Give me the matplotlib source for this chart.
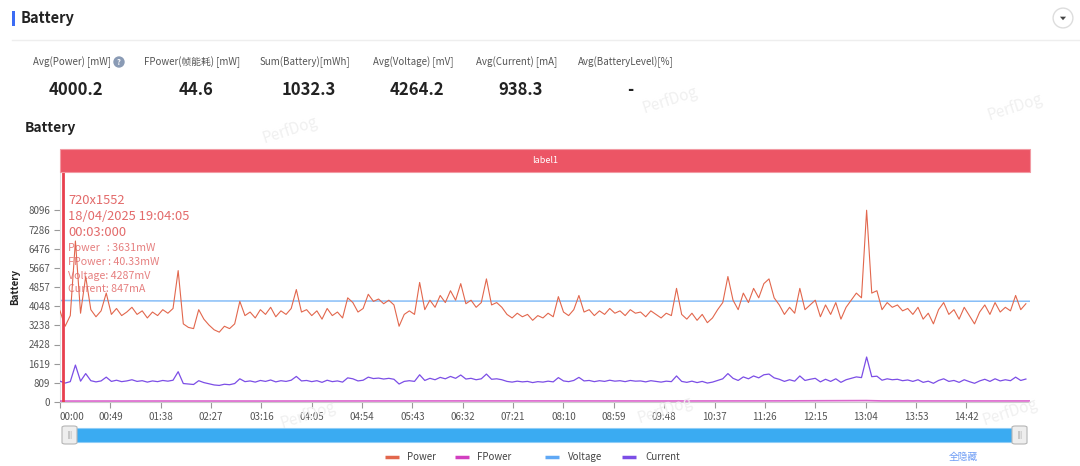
import numpy as np
import matplotlib
matplotlib.use("Agg")
import matplotlib.pyplot as plt
from matplotlib.patches import Rectangle, FancyBboxPatch, Circle, Polygon
from matplotlib.lines import Line2D

plt.rcParams['font.family'] = ['Noto Sans CJK SC', 'DejaVu Sans']

# ---------------- data ----------------
stat_labels = ["Avg(Power) [mW]", "FPower(帧能耗) [mW]", "Sum(Battery)[mWh]",
               "Avg(Voltage) [mV]", "Avg(Current) [mA]", "Avg(BatteryLevel)[%]"]
stat_values = ["4000.2", "44.6", "1032.3", "4264.2", "938.3", "-"]

sample_step_s = 5
power_mw = [
    3850, 3200, 3650, 6800, 3750, 5300, 3900, 3600, 3850, 4600,
    3700, 3950, 3650, 3800, 4000, 3700, 3850, 3550, 3800, 3650,
    3900, 3750, 3950, 5550, 3300, 3150, 3100, 3900, 3500, 3250,
    3050, 2950, 3200, 3100, 3300, 4250, 3650, 3800, 3550, 3900,
    3700, 4000, 3600, 3850, 3700, 3950, 4750, 3800, 3900, 3650,
    3850, 3500, 3950, 3650, 3800, 3550, 4400, 4200, 3800, 3950,
    4550, 4250, 4350, 4150, 4300, 4100, 3200, 3700, 3850, 3700,
    5050, 3900, 4300, 4000, 4500, 4200, 4700, 4300, 5000, 4150,
    4300, 4000, 4200, 5200, 4100, 4200, 4000, 3700, 3550, 3750,
    3600, 3700, 3450, 3650, 3550, 3750, 3600, 4450, 3800, 3650,
    3900, 4500, 3800, 3900, 3650, 3850, 3700, 3950, 3750, 3850,
    3650, 3900, 3750, 3800, 3600, 3850, 3700, 3550, 3750, 3650,
    4800, 3700, 3500, 3750, 3450, 3700, 3350, 3550, 3900, 4200,
    5300, 4300, 3900, 4600, 4200, 4800, 4400, 5000, 5200, 4400,
    4100, 3700, 4000, 3750, 4800, 3900, 4100, 4300, 3600, 4100,
    3700, 4200, 3500, 4000, 4300, 4600, 4400, 8100, 4600, 4700,
    3900, 4200, 4000, 4100, 3850, 3950, 3700, 4000, 3500, 3750,
    3300, 3900, 4200, 3700, 3900, 3500, 4000, 3650, 3300, 3800,
    4100, 3700, 4200, 3800, 4000, 3850, 4500, 3900, 4150,
]
current_ma = [
    880, 800, 860, 1560, 880, 1200, 900, 850, 890, 1050,
    870, 920, 860, 890, 940, 870, 900, 840, 890, 860,
    910, 880, 920, 1280, 780, 760, 740, 900, 820, 770,
    720, 700, 750, 730, 780, 980, 860, 890, 840, 910,
    870, 930, 850, 900, 870, 920, 1080, 890, 910, 860,
    900, 830, 920, 860, 890, 840, 1020, 980, 890, 920,
    1050, 990, 1010, 970, 1000, 960, 760, 870, 900, 870,
    1150, 910, 1000, 940, 1040, 980, 1080, 1000, 1140, 970,
    1000, 940, 980, 1180, 960, 980, 940, 870, 840, 880,
    850, 870, 820, 860, 840, 880, 850, 1030, 890, 860,
    910, 1040, 890, 910, 860, 900, 870, 920, 880, 900,
    860, 910, 880, 890, 850, 900, 870, 840, 880, 860,
    1100, 870, 830, 880, 820, 870, 800, 840, 910, 980,
    1200, 1000, 910, 1060, 980, 1100, 1020, 1150, 1180, 1020,
    960, 870, 940, 880, 1100, 910, 960, 1000, 850, 960,
    870, 980, 830, 940, 1000, 1060, 1030, 1900, 1070, 1090,
    920, 980, 940, 960, 900, 930, 870, 940, 830, 880,
    790, 910, 980, 870, 910, 830, 940, 860, 790, 890,
    960, 870, 980, 890, 940, 900, 1050, 910, 970,
]
voltage_t = [0, 100, 200, 300, 400, 500, 600, 700, 800, 944]
voltage_mv = [4287, 4270, 4266, 4264, 4262, 4263, 4260, 4262, 4258, 4256]
fpower_t = [0, 100, 200, 300, 400, 500, 600, 700, 785, 800, 944]
fpower_mw = [40, 42, 41, 44, 46, 45, 43, 47, 60, 45, 44]

xtick_labels = ["00:00", "00:49", "01:38", "02:27", "03:16", "04:05", "04:54",
                "05:43", "06:32", "07:21", "08:10", "08:59", "09:48", "10:37",
                "11:26", "12:15", "13:04", "13:53", "14:42"]
ytick_labels = ["0", "809", "1619", "2428", "3238", "4048", "4857",
                "5667", "6476", "7286", "8096"]
xtick_step_s = 49
ytick_step = 809.6
t_end = 944
cursor_t = 3
cursor_lines_big = ["720x1552", "18/04/2025 19:04:05", "00:03:000"]
cursor_lines_small = ["Power   : 3631mW", "FPower : 40.33mW",
                      "Voltage: 4287mV", "Current: 847mA"]
legend_names = ["Power", "FPower", "Voltage", "Current"]

# ---------------- style ----------------
C_POWER = "#e2674d"
C_FPOWER = "#d23fc0"
C_VOLT = "#5fa8f5"
C_CURR = "#7c4ee6"
W, H = 1080, 466


def fx(x):
    return x / W


def fy(y):
    return 1 - y / H


fig = plt.figure(figsize=(W / 100, H / 100), dpi=100)
fig.patch.set_facecolor("white")

# header
fig.patches.append(Rectangle((fx(12), fy(26)), 3 / W, 15 / H, transform=fig.transFigure,
                             facecolor="#3c6cf4", edgecolor="none"))
fig.text(fx(21), fy(18), "Battery", fontsize=10.5, fontweight="bold", color="#222222",
         va="center", ha="left")
fig.add_artist(Line2D([fx(12), fx(1080)], [fy(40), fy(40)], color="#eeeeee", lw=1,
                      transform=fig.transFigure))
# dropdown button
bx = fig.add_axes([fx(1052), fy(29), 22 / W, 22 / H])
bx.set_xlim(-1, 1); bx.set_ylim(-1, 1); bx.axis("off"); bx.set_aspect("equal")
bx.add_patch(Circle((0, 0), 0.9, facecolor="white", edgecolor="#dddddd", lw=1))
bx.add_patch(Polygon([[-0.28, 0.12], [0.28, 0.12], [0, -0.2]], closed=True,
                     facecolor="#444444", edgecolor="none"))

# stats
col_centers = [72, 192, 305, 413, 517, 626]
for cx, lab, val in zip(col_centers, stat_labels, stat_values):
    fig.text(fx(cx), fy(62), lab, fontsize=7, color="#555555", ha="center", va="center")
    fig.text(fx(cx + 4), fy(90), val, fontsize=12, fontweight="bold", color="#222222",
             ha="center", va="center")
hx = fig.add_axes([fx(113), fy(68), 12 / W, 12 / H])
hx.set_xlim(-1, 1); hx.set_ylim(-1, 1); hx.axis("off"); hx.set_aspect("equal")
hx.add_patch(Circle((0, 0), 0.95, facecolor="#8a9bb5", edgecolor="none"))
hx.text(0, -0.05, "?", color="white", fontsize=5.5, fontweight="bold", ha="center", va="center")

# watermarks
for (wx, wy) in [(290, 130), (670, 100), (1015, 107), (308, 415), (665, 410), (1010, 412)]:
    fig.text(fx(wx), fy(wy), "PerfDog", fontsize=11, color="#f0f0f0", rotation=18,
             ha="center", va="center", zorder=0)

fig.text(fx(25), fy(128), "Battery", fontsize=10, fontweight="bold", color="#222222",
         ha="left", va="center")

# label bar
fig.patches.append(Rectangle((fx(60), fy(172)), 970 / W, 23 / H, transform=fig.transFigure,
                             facecolor="#ec5565", edgecolor="#f29aa3", lw=0.8))
fig.text(fx(545), fy(160.5), "label1", fontsize=6.5, color="white", ha="center", va="center")

# main axes
ax = fig.add_axes([fx(60), fy(402), 970 / W, 230 / H])
ax.set_facecolor("none")
t_main = np.arange(len(power_mw)) * sample_step_s
ax.plot(fpower_t, fpower_mw, color=C_FPOWER, lw=1.2, alpha=0.8, zorder=3)
ax.plot(voltage_t, voltage_mv, color=C_VOLT, lw=1.1, alpha=0.75, zorder=2)
ax.plot(t_main, current_ma, color=C_CURR, lw=0.9, zorder=3)
ax.plot(t_main, power_mw, color=C_POWER, lw=0.8, zorder=3)
ax.axvline(cursor_t, color="#e8404e", lw=2, zorder=5)

ax.set_xlim(0, t_end)
ax.set_ylim(0, ytick_step * 12)
ax.set_xticks(np.arange(len(xtick_labels)) * xtick_step_s)
ax.set_xticklabels(xtick_labels)
ax.set_yticks(np.arange(len(ytick_labels)) * ytick_step)
ax.set_yticklabels(ytick_labels)
ax.tick_params(axis="both", labelsize=7, colors="#666666", length=4, width=0.8, pad=3)
ax.tick_params(axis="x", colors="#999999", labelcolor="#555555")
ax.tick_params(axis="y", colors="#999999", labelcolor="#555555")
ax.get_xticklabels()[0].set_ha("left")
for s in ["top", "right"]:
    ax.spines[s].set_visible(False)
ax.spines["left"].set_color("#e0e0e0")
ax.spines["bottom"].set_color("#cccccc")
ax.set_ylabel("Battery", fontsize=7, fontweight="bold", color="#222222", labelpad=6)

# cursor overlay text
ytxt = 201
for ln in cursor_lines_big:
    fig.text(fx(68), fy(ytxt), ln, fontsize=9.3, color="#e05a5a", alpha=0.9,
             ha="left", va="center", zorder=6)
    ytxt += 16
ytxt = 248
for ln in cursor_lines_small:
    fig.text(fx(68), fy(ytxt), ln, fontsize=7.7, color="#e06060", alpha=0.8,
             ha="left", va="center", zorder=6)
    ytxt += 13.8

# slider
fig.patches.append(FancyBboxPatch((fx(64), fy(442)), 962 / W, 14 / H,
                                  boxstyle="square,pad=0", transform=fig.transFigure,
                                  facecolor="#3aabf2", edgecolor="#8fcdf7", lw=0.8))
for hxp in [62, 1012]:
    fig.patches.append(FancyBboxPatch((fx(hxp), fy(444)), 15 / W, 18 / H,
                                      boxstyle="round,pad=0,rounding_size=0.003",
                                      transform=fig.transFigure, facecolor="#eeeeee",
                                      edgecolor="#b5b5b5", lw=0.8))
    fig.text(fx(hxp + 7.5), fy(435), "|||", fontsize=4.5, color="#888888",
             ha="center", va="center")

# legend
leg_pos = [(385, 407), (455, 477), (545, 568), (622, 645)]
for (lx, tx), name, col in zip(leg_pos, legend_names, [C_POWER, C_FPOWER, C_VOLT, C_CURR]):
    fig.add_artist(Line2D([fx(lx), fx(lx + 14)], [fy(457), fy(457)], color=col, lw=2.5,
                          solid_capstyle="butt", transform=fig.transFigure))
    fig.text(fx(tx), fy(457), name, fontsize=7, color="#444444", ha="left", va="center")
fig.text(fx(963), fy(457), "全隐藏", fontsize=7, color="#6d9cf5", ha="center", va="center")

fig.savefig("out.png", dpi=100, facecolor="white")
